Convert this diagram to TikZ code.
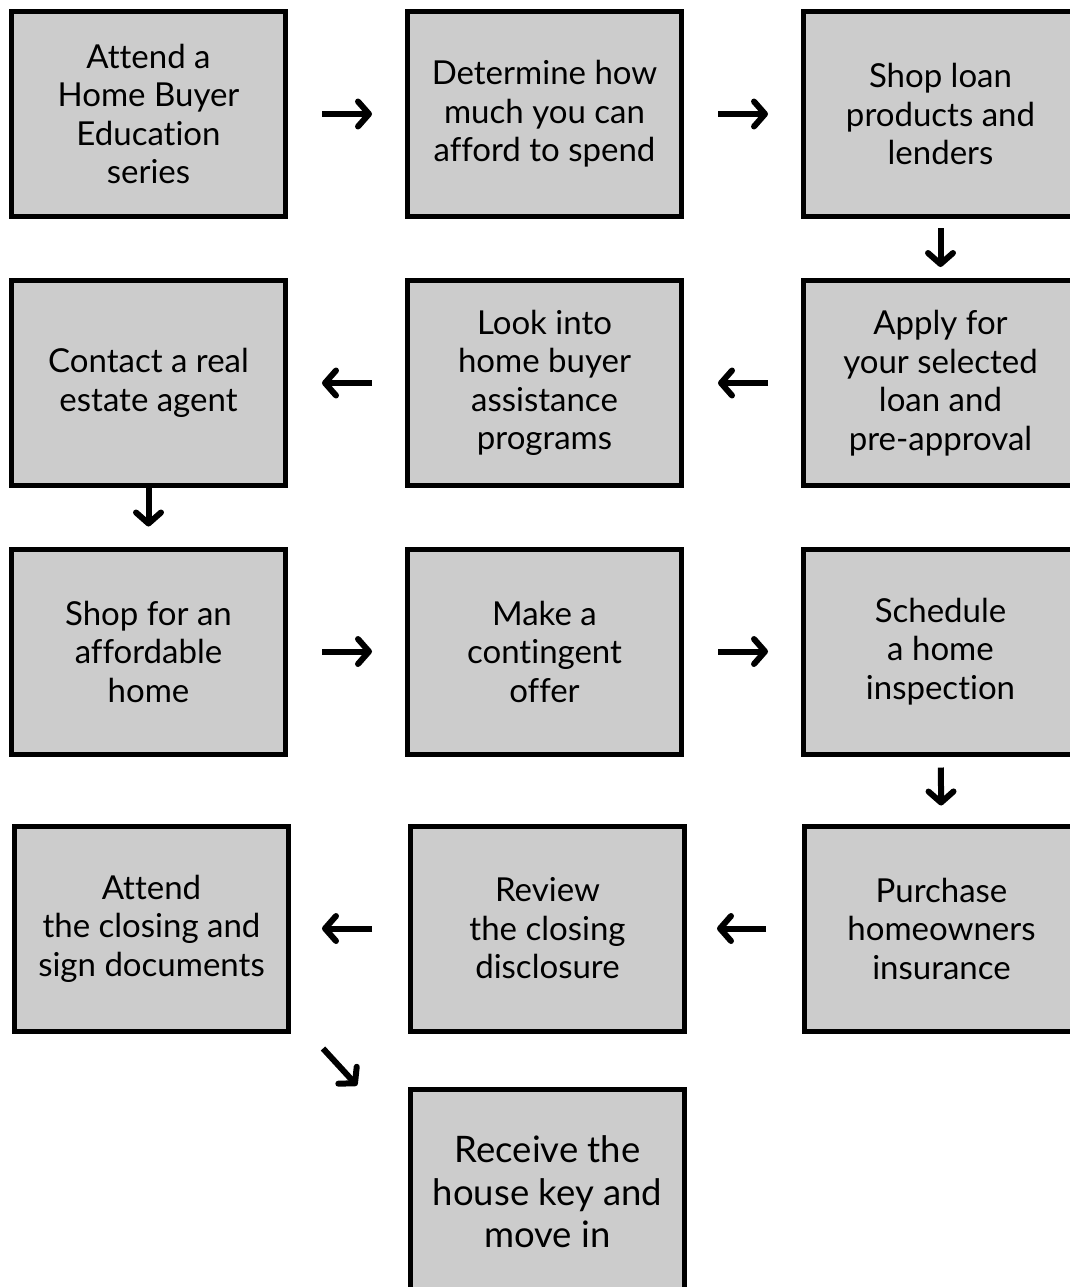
\documentclass[tikz,border=0pt]{standalone}
\usepackage{fontspec}
\setmainfont{Lato}[Ligatures=NoCommon]
\usepackage{tikz}
\usetikzlibrary{arrows.meta}

\begin{document}
\begin{tikzpicture}[x=1pt,y=-1pt,
      line width=6pt,-{Straight Barb[round,length=11pt,width=25pt]},
      stage node/.style={rectangle,draw=black,fill=black!20,line width=5pt,
        minimum width=274pt,minimum height=205pt,align=center,
        font=\fontsize{33}{38.5}\selectfont}]
    \useasboundingbox (0,0) rectangle (1070,1287);

      \node[stage node] (seminar) at (148.5,114)		{Attend a\\Home Buyer\\Education\\series};
      \node[stage node] (budget) at (544.5,114)		{Determine how\\much you can\\afford to spend};
      \node[stage node] (lenders) at (940.5,114)		{Shop loan\\products and\\lenders};

      \node[stage node] (preapproval) at (940.5,383)	{Apply for\\your selected\\loan and\\pre-approval};
      \node[stage node] (assistance) at (544.5,383)	{Look into\\home buyer\\assistance\\programs};
      \node[stage node] (agent) at (148.5,383)		{Contact a real\\estate agent};

      \node[stage node] (shop) at (148.5,651.5)		{Shop for an\\affordable\\home};
      \node[stage node] (offer) at (544.5,651.5)		{Make a\\contingent\\offer};
      \node[stage node] (inspection) at (940.5,651.5)	{Schedule\\a home\\inspection};

      \node[stage node] (insurance) at (941.5,928.5)	{Purchase\\homeowners\\insurance};
      \node[stage node] (disclosure) at (547.5,928.5)	{Review\\the closing\\disclosure};
      \node[stage node] (closing) at (151.5,928.5)	{Attend\\the closing and\\sign documents};

      \node[stage node,font=\fontsize{36.5}{42.5}\selectfont] (keys) at (547.5,1192) {Receive the\\house key and\\move in};

      % short arrows in the gaps
      \foreach \from/\to/\s/\e in {seminar/budget/34/33,budget/lenders/34/33,lenders/preapproval/9/11,
	  preapproval/assistance/33/34,assistance/agent/33/34,agent/shop/0/20,
	  shop/offer/34/33,offer/inspection/34/33,inspection/insurance/11/18,
	  insurance/disclosure/36/30,disclosure/closing/36/31}
	\draw[shorten <=\s pt,shorten >=\e pt] (\from) -- (\to);

      \coordinate (slant start) at ([shift={(32,15)}]closing.south east);
      \coordinate (slant end) at ([shift={(66,52)}]closing.south east);
      \draw (slant start) -- (slant end);

    \end{tikzpicture}
\end{document}
